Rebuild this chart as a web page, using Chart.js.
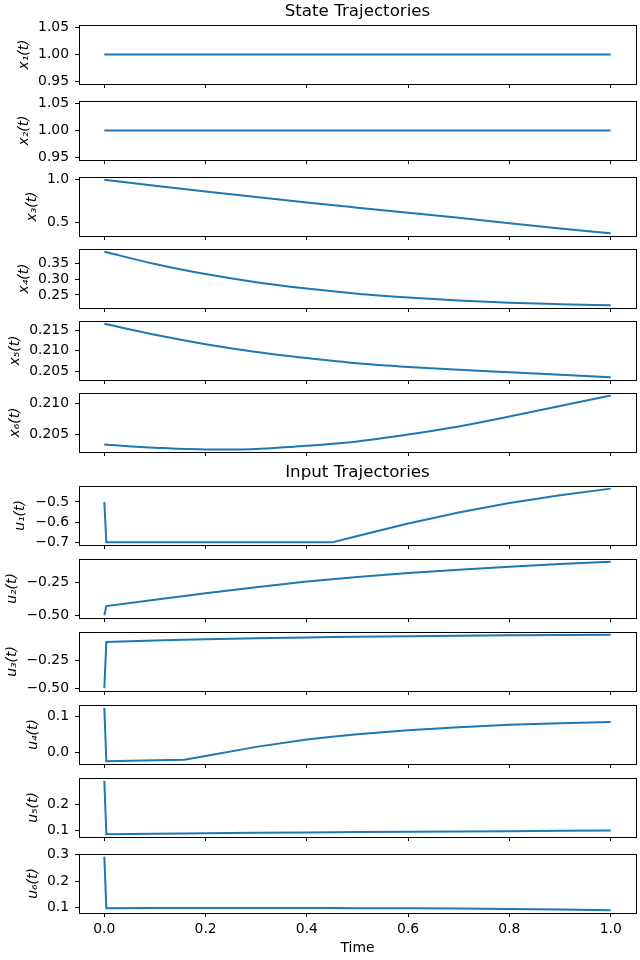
<!DOCTYPE html>
<html>
<head>
<meta charset="utf-8">
<script src="https://cdn.jsdelivr.net/npm/chart.js@4.4.1/dist/chart.umd.min.js"></script>
<style>
  html, body { margin: 0; padding: 0; background: #fff; }
  #fig { position: relative; width: 640px; height: 960px; overflow: hidden; }
  .panel { position: absolute; left: 0; width: 640px; }
</style>
</head>
<body>
<div id="fig"></div>
<script>
// state trajectories
const stateTime = [0, 0.1, 0.2, 0.3, 0.4, 0.5, 0.6, 0.7, 0.8, 0.9, 1.0];
const x1 = [1, 1, 1, 1, 1, 1, 1, 1, 1, 1, 1];
const x2 = [1, 1, 1, 1, 1, 1, 1, 1, 1, 1, 1];
const x3 = [1.0, 0.931, 0.864, 0.799, 0.736, 0.676, 0.617, 0.56, 0.496, 0.436, 0.379];
const x4 = [0.387, 0.348, 0.316, 0.290, 0.270, 0.254, 0.242, 0.232, 0.225, 0.2205, 0.217];
const x5 = [0.2166, 0.2139, 0.2116, 0.2097, 0.2082, 0.2069, 0.2060, 0.2053, 0.2047, 0.2041, 0.2035];
const x6 = [0.2034, 0.2029, 0.2026, 0.2027, 0.2032, 0.2039, 0.2050, 0.2063, 0.2079, 0.2096, 0.2113];

// input trajectories
const inputTime = [0, 0.004, 0.1, 0.158, 0.2, 0.3, 0.4, 0.45, 0.5, 0.6, 0.7, 0.8, 0.9, 1.0];
const u1 = [-0.5, -0.7, -0.7, -0.7, -0.7, -0.7, -0.7, -0.7, -0.668, -0.607, -0.552, -0.505, -0.467, -0.434];
const u2 = [-0.50, -0.429, -0.380, -0.351, -0.331, -0.284, -0.240, -0.222, -0.205, -0.174, -0.148, -0.126, -0.105, -0.087];
const u3 = [-0.50, -0.090, -0.078, -0.071, -0.067, -0.058, -0.050, -0.047, -0.044, -0.039, -0.035, -0.031, -0.028, -0.026];
const u4 = [0.1235, -0.0235, -0.021, -0.019, -0.009, 0.016, 0.036, 0.044, 0.051, 0.062, 0.070, 0.0765, 0.081, 0.0846];
const u5 = [0.288, 0.0874, 0.089, 0.090, 0.091, 0.093, 0.094, 0.095, 0.096, 0.097, 0.098, 0.099, 0.100, 0.101];
const u6 = [0.293, 0.096, 0.097, 0.097, 0.097, 0.097, 0.097, 0.097, 0.0965, 0.096, 0.095, 0.0935, 0.0915, 0.0885];

const timeTicks = [0, 0.2, 0.4, 0.6, 0.8, 1.0];

const BLUE = '#1f77b4';
const PLOT_H = 59;
Chart.defaults.color = '#000';
Chart.defaults.font.family = '"DejaVu Sans", sans-serif';
Chart.defaults.font.size = 13.9;

const panels = [
  { label: 'x₁(t)', t: stateTime, y: x1, ticks: [0.95, 1.00, 1.05], dec: 2, min: 0.945, max: 1.055, labelX: 24, top: 25, title: 'State Trajectories' },
  { label: 'x₂(t)', t: stateTime, y: x2, ticks: [0.95, 1.00, 1.05], dec: 2, min: 0.945, max: 1.055, labelX: 24, top: 101 },
  { label: 'x₃(t)', t: stateTime, y: x3, ticks: [0.5, 1.0], dec: 1, min: 0.348, max: 1.031, labelX: 32, top: 177 },
  { label: 'x₄(t)', t: stateTime, y: x4, ticks: [0.25, 0.30, 0.35], dec: 2, min: 0.2085, max: 0.3955, labelX: 24, top: 249 },
  { label: 'x₅(t)', t: stateTime, y: x5, ticks: [0.205, 0.210, 0.215], dec: 3, min: 0.2028, max: 0.2173, labelX: 15, top: 321 },
  { label: 'x₆(t)', t: stateTime, y: x6, ticks: [0.205, 0.210], dec: 3, min: 0.2022, max: 0.2117, labelX: 15, top: 393 },
  { label: 'u₁(t)', t: inputTime, y: u1, ticks: [-0.7, -0.6, -0.5], dec: 1, min: -0.713, max: -0.421, labelX: 20, top: 486, title: 'Input Trajectories' },
  { label: 'u₂(t)', t: inputTime, y: u2, ticks: [-0.50, -0.25], dec: 2, min: -0.521, max: -0.066, labelX: 12.5, top: 559 },
  { label: 'u₃(t)', t: inputTime, y: u3, ticks: [-0.50, -0.25], dec: 2, min: -0.524, max: -0.002, labelX: 12.5, top: 632 },
  { label: 'u₄(t)', t: inputTime, y: u4, ticks: [0.0, 0.1], dec: 1, min: -0.031, max: 0.131, labelX: 33, top: 705 },
  { label: 'u₅(t)', t: inputTime, y: u5, ticks: [0.1, 0.2], dec: 1, min: 0.077, max: 0.298, labelX: 33, top: 778 },
  { label: 'u₆(t)', t: inputTime, y: u6, ticks: [0.1, 0.2, 0.3], dec: 1, min: 0.078, max: 0.303, labelX: 33, top: 854 }
];

const fmt = (v, d) => v.toFixed(d).replace('-', '\u2212');

// full box around each axes, like matplotlib spines
const frame = {
  id: 'frame',
  afterDraw(chart) {
    const { ctx, chartArea: a } = chart;
    ctx.save();
    ctx.strokeStyle = '#000';
    ctx.lineWidth = 1;
    ctx.strokeRect(Math.round(a.left) + 0.5, Math.round(a.top) + 0.5,
      Math.round(a.right - a.left), Math.round(a.bottom - a.top));
    ctx.restore();
  }
};

const fig = document.getElementById('fig');

panels.forEach((p, i) => {
  const last = i === panels.length - 1;
  const titleH = p.title ? 25 : 0;
  const padTop = p.title ? 0 : 16;
  const xAxisH = last ? 47 : 6;
  const padBottom = last ? 0 : 12;
  const h = padTop + titleH + PLOT_H + xAxisH + padBottom;

  const box = document.createElement('div');
  box.className = 'panel';
  box.style.top = (p.top - padTop - titleH) + 'px';
  box.style.height = h + 'px';
  const cv = document.createElement('canvas');
  cv.width = 640;
  cv.height = h;
  box.appendChild(cv);
  fig.appendChild(box);

  const tickGrid = { drawOnChartArea: false, drawTicks: true, tickLength: 4, color: '#000', tickColor: '#000' };
  // smooth the sparse state samples, keep the input kinks sharp
  const smooth = p.t === stateTime;

  new Chart(cv, {
    type: 'line',
    data: {
      datasets: [{
        data: p.t.map((t, k) => ({ x: t, y: p.y[k] })),
        borderColor: BLUE,
        borderWidth: 2,
        pointRadius: 0,
        tension: 0,
        cubicInterpolationMode: smooth ? 'monotone' : 'default'
      }]
    },
    options: {
      responsive: false,
      animation: false,
      devicePixelRatio: 1,
      layout: { padding: { top: padTop, right: 4, bottom: padBottom, left: 0 } },
      plugins: {
        legend: { display: false },
        tooltip: { enabled: false },
        title: {
          display: !!p.title,
          text: p.title || '',
          fullSize: false,
          color: '#000',
          font: { size: 16.7, weight: 'normal' },
          padding: { top: 2, bottom: 2.96 }
        }
      },
      scales: {
        x: {
          type: 'linear', min: -0.05, max: 1.05, bounds: 'data',
          afterBuildTicks: s => { s.ticks = timeTicks.map(v => ({ value: v })); },
          afterFit: s => { s.height = xAxisH; },
          grid: tickGrid,
          border: { display: false },
          ticks: { display: last, padding: 4, autoSkip: false, maxRotation: 0, callback: v => v.toFixed(1) },
          title: { display: last, text: 'Time', padding: { top: 0, bottom: 3 } }
        },
        y: {
          type: 'linear', min: p.min, max: p.max, bounds: 'data',
          afterBuildTicks: s => { s.ticks = p.ticks.map(v => ({ value: v })); },
          afterFit: s => { s.width = 79; },
          grid: tickGrid,
          border: { display: false },
          ticks: { padding: 6, autoSkip: false, callback: v => fmt(v, p.dec) },
          title: { display: true, text: p.label, font: { style: 'italic' }, padding: { top: p.labelX - 8.34, bottom: 0 } }
        }
      }
    },
    plugins: [frame]
  });
});
</script>
</body>
</html>
